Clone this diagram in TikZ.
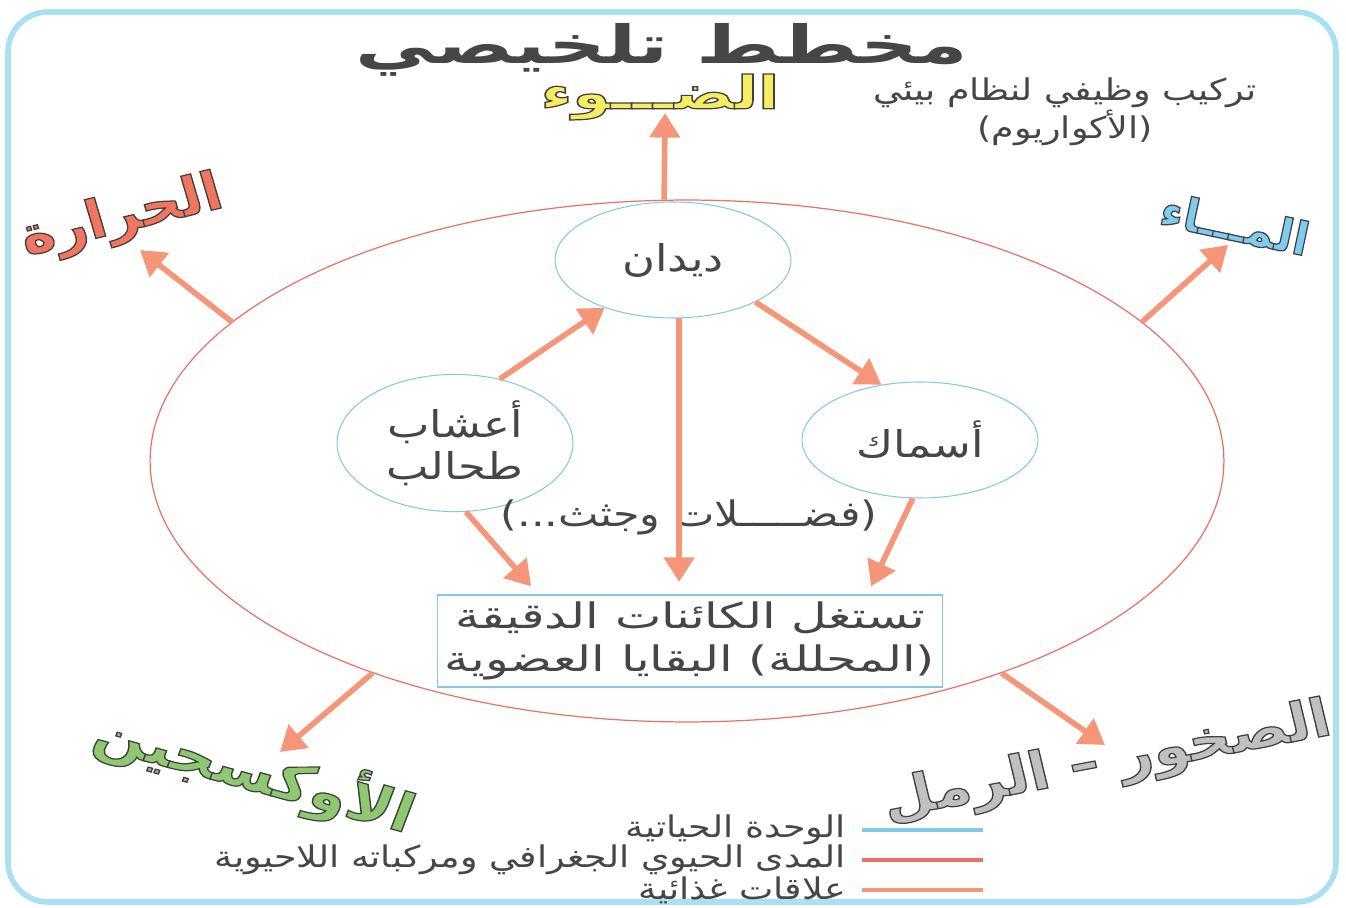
\documentclass[tikz,border=0pt]{standalone}
\usepackage{fontspec}
\usepackage{tikz}
\usetikzlibrary{shapes,arrows.meta,positioning,calc}
\TeXXeTstate=1
\newfontfamily\arabicfont[Script=Arabic]{DejaVu Sans}
\newfontfamily\arabicwide[Script=Arabic, FakeStretch=1.22]{DejaVu Sans}
\newfontfamily\arabicbox[Script=Arabic, FakeStretch=1.4]{DejaVu Sans}
\definecolor{framecyan}{RGB}{170,224,244}
\definecolor{unitblue}{RGB}{130,200,232}
\definecolor{rangered}{RGB}{238,112,100}
\definecolor{feedsalmon}{RGB}{246,150,120}
\definecolor{inkgray}{RGB}{70,70,70}
\definecolor{lightyellow}{RGB}{246,238,96}
\definecolor{heatred}{RGB}{240,118,96}
\definecolor{waterblue}{RGB}{128,204,238}
\definecolor{oxygreen}{RGB}{142,200,112}
\definecolor{rockgray}{RGB}{192,192,192}
\newcommand{\outlined}[2]{{\color{#1}\special{pdf:literal 2 Tr 0.7 w 0.25 0.25 0.25 RG}#2\special{pdf:literal 0 Tr}}}
\newcommand{\ar}[1]{\beginR #1\endR}
\tikzstyle{unit} = [ellipse, draw=unitblue, line width=0.6pt, minimum width=4.72cm, minimum height=2.32cm, align=center, text=inkgray, font=\arabicwide\fontsize{21}{24}\selectfont]
\tikzstyle{decomp} = [rectangle, draw=unitblue, line width=0.9pt, minimum width=10.1cm, minimum height=1.84cm, align=center, text=inkgray, font=\arabicbox\fontsize{20}{24}\selectfont]
\tikzstyle{factor} = [font=\arabicfont\bfseries\fontsize{26}{26}\selectfont, transform shape]
\tikzstyle{feed} = [draw=feedsalmon, line width=3.2pt, -{Triangle[length=14pt,width=17pt]}]
\tikzstyle{key} = [anchor=east, text=inkgray, font=\arabicwide\fontsize{17}{17}\selectfont]

\begin{document}
\begin{tikzpicture}[x=0.02cm, y=-0.02cm]
    \useasboundingbox (0,0) rectangle (1346,908);
    \draw[framecyan, line width=3.2pt, rounded corners=0.8cm] (8,12) rectangle (1336,902);

    % العناوين
    \node[font=\arabicfont\bfseries\fontsize{30}{30}\selectfont, text=inkgray, xscale=1.52, transform shape] (title) at (662,50) {\ar{مخطط تلخيصي}};
    \node[text=inkgray, align=center, font=\arabicwide\fontsize{17}{19}\selectfont] (aquarium) at (1065,112) {\ar{تركيب وظيفي لنظام بيئي}\\\ar{(الأكواريوم)}};

    % المدى الحيوي
    \node[ellipse, draw=rangered, line width=0.7pt, minimum width=21.48cm, minimum height=10.44cm] (range) at (687,461) {};

    % الوحدات الحياتية
    \node[unit] (worms) at (673,260) {\ar{ديدان}};
    \node[unit] (grass) at (455,443) {\ar{أعشاب}\\\ar{طحالب}};
    \node[unit] (fish) at (920,440) {\ar{أسماك}};
    \node[text=inkgray, font=\arabicwide\fontsize{20}{20}\selectfont] (waste) at (689,517) {\ar{(فضـــــلات وجثث...)}};
    \node[decomp] (box) at (690,641) {\ar{تستغل الكائنات الدقيقة}\\\ar{(المحللة) البقايا العضوية}};

    % العوامل اللاحيوية
    \node[factor, xscale=1.35] (light) at (660,97) {\outlined{lightyellow}{\ar{الضـــوء}}};
    \node[factor, font=\arabicfont\bfseries\fontsize{30}{30}\selectfont, xscale=1.1, rotate=15] (heat) at (122,218) {\outlined{heatred}{\ar{الحرارة}}};
    \node[factor, rotate=-12] (water) at (1235,224) {\outlined{waterblue}{\ar{المـــاء}}};
    \node[factor, font=\arabicfont\bfseries\fontsize{30}{30}\selectfont, xscale=1.18, rotate=-18] (oxygen) at (255,772) {\outlined{oxygreen}{\ar{الأوكسجين}}};
    \node[factor, font=\arabicfont\bfseries\fontsize{30}{30}\selectfont, xscale=1.13, rotate=12] (rocks) at (1107,763) {\outlined{rockgray}{\ar{الصخور – الرمل}}};

    \coordinate (lightin) at (665,113);
    \coordinate (heatin) at (140,250);
    \coordinate (waterin) at (1228,245);
    \coordinate (oxygenin) at (280,752);
    \coordinate (rocksin) at (1105,745);

    % علاقات غذائية
    \draw[feed] (grass.55) -- (worms.215);
    \draw[feed] (worms.-27) -- (fish.125);
    \draw[feed, shorten >=7pt] (worms.-84) -- (worms.-84 |- box.north);
    \draw[feed, shorten >=6pt] (grass.-81) -- ($(box.north west)!0.2!(box.north east)$);
    \draw[feed, shorten >=5pt] (fish.-97) -- ($(box.north west)!0.85!(box.north east)$);

    % نحو العوامل
    \draw[feed] (range.95) -- (lightin);
    \draw[feed] (range.163) -- (heatin);
    \draw[feed] (range.17.7) -- (waterin);
    \draw[feed] (range.214.8) -- (oxygenin);
    \draw[feed] (range.326.9) -- (rocksin);

    % المفتاح
    \node[key] (key1) at (852,830) {\ar{الوحدة الحياتية}};
    \node[key] (key2) at (852,860) {\ar{المدى الحيوي الجغرافي ومركباته اللاحيوية}};
    \node[key] (key3) at (852,890) {\ar{علاقات غذائية}};
    \draw[unitblue, line width=2.2pt] ($(key1.east)+(10,0)$) -- ++(121,0);
    \draw[rangered, line width=2.2pt] ($(key2.east)+(10,0)$) -- ++(121,0);
    \draw[feedsalmon, line width=2.2pt] ($(key3.east)+(10,0)$) -- ++(121,0);
\end{tikzpicture}
\end{document}
